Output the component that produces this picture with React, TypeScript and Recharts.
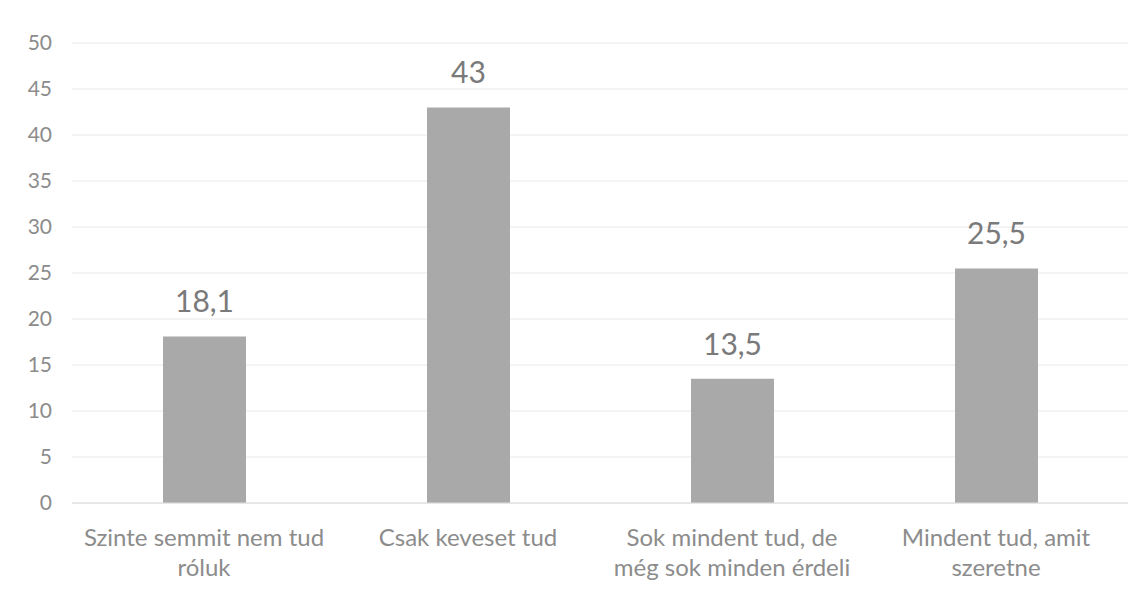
import { BarChart, Bar, XAxis, YAxis, CartesianGrid, LabelList } from 'recharts';

const categories = [
  'Szinte semmit nem tud róluk',
  'Csak keveset tud',
  'Sok mindent tud, de még sok minden érdeli',
  'Mindent tud, amit szeretne',
];
const labelLines: string[][] = [
  ['Szinte semmit nem tud', 'róluk'],
  ['Csak keveset tud'],
  ['Sok mindent tud, de', 'még sok minden érdeli'],
  ['Mindent tud, amit', 'szeretne'],
];
const values = [18.1, 43, 13.5, 25.5];
const yTicks = [0, 5, 10, 15, 20, 25, 30, 35, 40, 45, 50];

const data = categories.map((name, i) => ({ name, value: values[i] }));

const FONT = 'Lato, "Open Sans", sans-serif';

function CategoryTick(props: any) {
  const { x, y, index } = props;
  const lines = labelLines[index] ?? [];
  return (
    <text x={x} y={y} textAnchor="middle" fill="#8c8c8c" fontSize={24} fontFamily={FONT}>
      {lines.map((line, i) => (
        <tspan key={i} x={x} dy={i === 0 ? 35 : 30}>{line}</tspan>
      ))}
    </text>
  );
}

export default function App() {
  return (
    <div style={{ position: 'absolute', left: 0, top: 0, background: '#fff' }}>
      <BarChart
        width={1146}
        height={598}
        data={data}
        margin={{ top: 43, right: 18, bottom: 0, left: 0 }}
        barSize={83}
      >
        <CartesianGrid vertical={false} stroke="#e8e8e8" />
        <XAxis
          dataKey="name"
          tick={<CategoryTick />}
          tickLine={false}
          axisLine={{ stroke: '#dcdcdc' }}
          height={95}
          interval={0}
        />
        <YAxis
          domain={[0, 50]}
          ticks={yTicks}
          width={72}
          tickLine={false}
          axisLine={false}
          tickMargin={14}
          tick={{ fill: '#8c8c8c', fontSize: 21, fontFamily: FONT }}
        />
        <Bar dataKey="value" fill="#a9a9a9" isAnimationActive={false}>
          <LabelList
            dataKey="value"
            position="top"
            offset={24}
            fill="#7a7a7a"
            fontSize={30}
            fontFamily={FONT}
            formatter={(v: any) => String(v).replace('.', ',')}
          />
        </Bar>
      </BarChart>
    </div>
  );
}
